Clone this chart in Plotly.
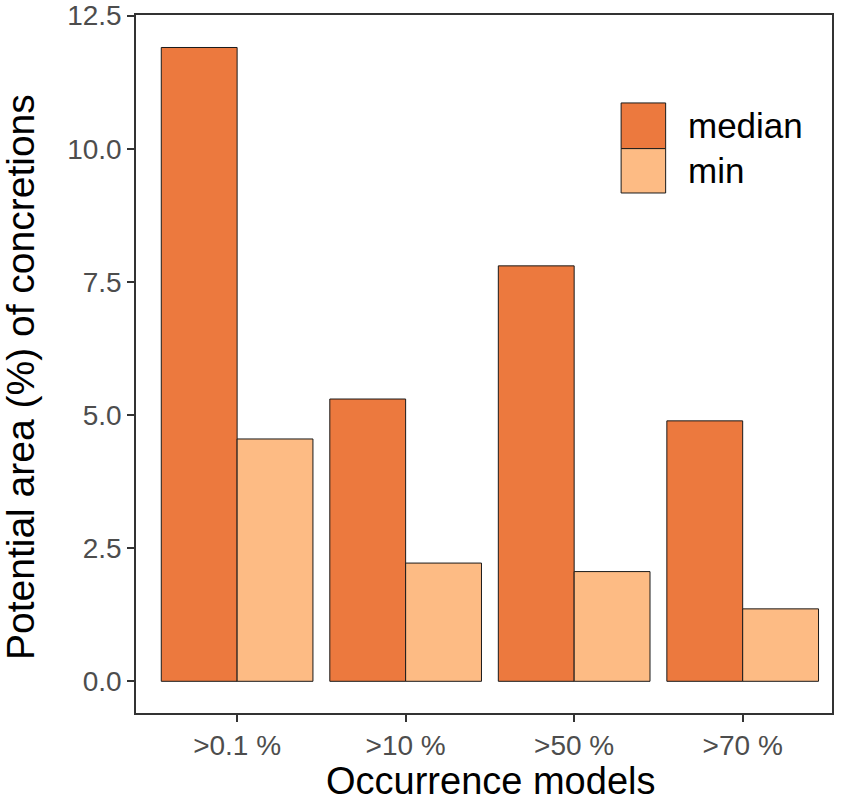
import plotly.graph_objects as go

# values
models = [">0.1 %", ">10 %", ">50 %", ">70 %"]
median_area = [11.90, 5.30, 7.80, 4.89]
min_area = [4.55, 2.22, 2.06, 1.36]
series_names = ["median", "min"]
series_colors = ["#EC793E", "#FDBB84"]

fig = go.Figure()
for name, vals, col in zip(series_names, [median_area, min_area], series_colors):
    fig.add_trace(go.Bar(
        x=models, y=vals, name=name,
        marker=dict(color=col, line=dict(color="#1a1a1a", width=1)),
    ))

# legend drawn by hand so the keys get ggplot-sized boxes
box_x0, box_x1 = 0.697, 0.761
box_y = [0.874, 0.8086, 0.745]
for i, (name, col) in enumerate(zip(series_names, series_colors)):
    fig.add_shape(type="rect", xref="paper", yref="paper",
                  x0=box_x0, x1=box_x1, y0=box_y[i + 1], y1=box_y[i],
                  fillcolor=col, line=dict(color="#1a1a1a", width=1))
    fig.add_annotation(xref="paper", yref="paper", x=0.79,
                       y=(box_y[i] + box_y[i + 1]) / 2, text=name,
                       showarrow=False, xanchor="left", yanchor="middle",
                       font=dict(size=35, color="black"))

# axis titles as annotations so they sit where the original has them
fig.add_annotation(xref="paper", yref="paper", x=-0.167, y=0.481,
                   text="Potential area (%) of concretions", textangle=-90,
                   showarrow=False, xanchor="center", yanchor="middle",
                   font=dict(size=39, color="black"))
fig.add_annotation(xref="paper", yref="paper", x=0.509, y=-0.097,
                   text="Occurrence models",
                   showarrow=False, xanchor="center", yanchor="middle",
                   font=dict(size=38, color="black"))

axis_style = dict(showline=True, mirror=True, linecolor="#333333", linewidth=1.5,
                  ticks="outside", ticklen=7, tickwidth=1.5, tickcolor="#333333",
                  showgrid=False, zeroline=False, automargin=False,
                  ticklabeloverflow="allow",
                  tickfont=dict(size=28, color="#4D4D4D"))

fig.update_layout(
    width=850, height=803,
    margin=dict(l=136, r=18, t=15, b=90),
    paper_bgcolor="white", plot_bgcolor="white",
    font=dict(family="Liberation Sans, Arial, sans-serif"),
    barmode="group", bargap=0.1, bargroupgap=0,
    showlegend=False,
    xaxis=dict(range=[-0.6, 3.53], **axis_style),
    yaxis=dict(range=[-0.595, 12.51], tickvals=[0, 2.5, 5, 7.5, 10, 12.5],
               ticktext=["0.0", "2.5", "5.0", "7.5", "10.0", "12.5"],
               **axis_style),
)

# drop the default page margin / scrollbars so the figure fills the window
fig.write_html("out.html", config={"displayModeBar": False},
               post_script="document.body.style.margin='0';"
                           "document.body.style.overflow='hidden';"
                           "document.documentElement.style.overflow='hidden';")
